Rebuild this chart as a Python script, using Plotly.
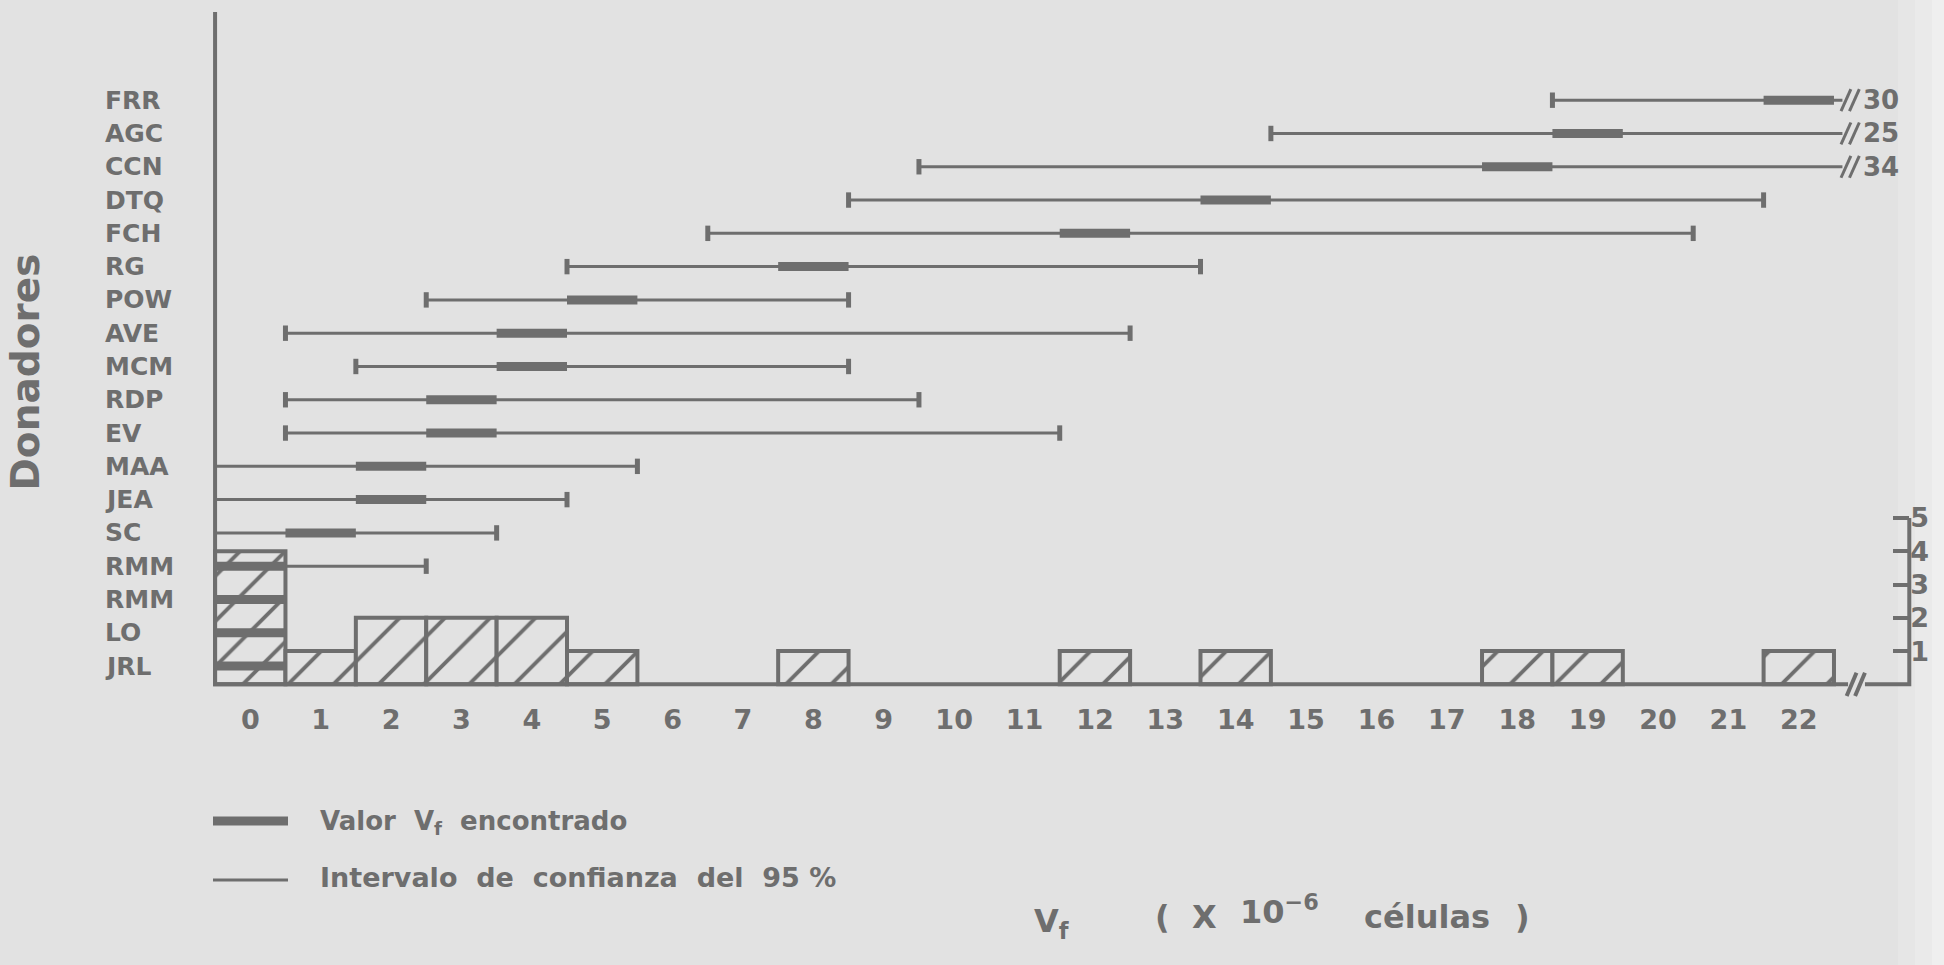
import plotly.graph_objects as go

# ---------------- data ----------------
donors = ["JRL", "LO", "RMM", "RMM", "SC", "JEA", "MAA", "EV", "RDP",
          "MCM", "AVE", "POW", "RG", "FCH", "DTQ", "CCN", "AGC", "FRR"]
vf_found = [0, 0, 0, 0, 1, 2, 2, 3, 3, 4, 4, 5, 8, 12, 14, 18, 19, 22]
ci_low = [-0.5, -0.5, -0.5, -0.5, -0.5, -0.5, -0.5, 0.5, 0.5, 1.5, 0.5,
          2.5, 4.5, 6.5, 8.5, 9.5, 14.5, 18.5]
ci_high = [0.5, 0.5, 0.5, 2.5, 3.5, 4.5, 5.5, 11.5, 9.5, 8.5, 12.5,
           8.5, 13.5, 20.5, 21.5, 34, 25, 30]
hist_bins = [0, 1, 2, 3, 4, 5, 8, 12, 14, 18, 19, 22]
hist_counts = [4, 1, 2, 2, 2, 1, 1, 1, 1, 1, 1, 1]
x_ticks = list(range(0, 23))
count_ticks = [1, 2, 3, 4, 5]

# ---------------- styling / layout constants ----------------
INK = "#6e6e6e"
BG = "#e2e2e2"
FONT = "DejaVu Sans"
W, H = 1944, 965
L, R, T, B = 201, 15, 2, 264
XR = [-0.7, 23.85]          # visible x range
YR = [-0.5, 20.5]           # visible y range
AX_L = -0.5                 # left axis position
AX_R = 23.57                # right (count) axis position
AX_TOP = 20.2
ROW_OFF = 0.55
X_BREAK = 22.62


def px(xp):
    return (xp - L) / (W - L - R)


def py(yp):
    return 1 - (yp - T) / (H - T - B)


rows = [i + ROW_OFF for i in range(len(donors))]

fig = go.Figure()

# histogram
fig.add_trace(go.Bar(
    x=hist_bins, y=hist_counts, width=1,
    marker=dict(color=BG, line=dict(color=INK, width=4),
                pattern=dict(shape="/", fgcolor=INK, bgcolor=BG,
                             fgopacity=1, size=32, solidity=0.12)),
    hoverinfo="skip", showlegend=False))

# thin confidence-interval lines
tx, ty = [], []
for lo, hi, y in zip(ci_low, ci_high, rows):
    tx += [max(lo, AX_L), min(hi, X_BREAK), None]
    ty += [y, y, None]
fig.add_trace(go.Scatter(x=tx, y=ty, mode="lines",
                         line=dict(color=INK, width=3),
                         hoverinfo="skip", showlegend=False))

# end caps
cx, cy = [], []
for lo, hi, y in zip(ci_low, ci_high, rows):
    if lo > AX_L:
        cx.append(lo); cy.append(y)
    if 0.5 < hi <= X_BREAK:
        cx.append(hi); cy.append(y)
fig.add_trace(go.Scatter(x=cx, y=cy, mode="markers",
                         marker=dict(symbol="line-ns", size=11,
                                     line=dict(color=INK, width=5)),
                         hoverinfo="skip", showlegend=False))

# thick found-value segments
vx, vy = [], []
for v, y in zip(vf_found, rows):
    vx += [v - 0.5, v + 0.5, None]
    vy += [y, y, None]
fig.add_trace(go.Scatter(x=vx, y=vy, mode="lines",
                         line=dict(color=INK, width=9),
                         hoverinfo="skip", showlegend=False))

# break marks "//" on truncated intervals + value labels
bx, by = [], []
ann = []
for hi, y in zip(ci_high, rows):
    if hi > X_BREAK:
        for off in (0.05, 0.17):
            xc = X_BREAK + off
            bx += [xc - 0.07, xc + 0.07, None]
            by += [y - 0.33, y + 0.33, None]
        ann.append(dict(x=X_BREAK + 0.27, y=y, xref="x", yref="y",
                        text=str(hi), showarrow=False, xanchor="left",
                        font=dict(family=FONT, size=26, color=INK,
                                  weight="bold")))
fig.add_trace(go.Scatter(x=bx, y=by, mode="lines",
                         line=dict(color=INK, width=3),
                         hoverinfo="skip", showlegend=False))

# left axis + bottom axis up to the break
fig.add_trace(go.Scatter(x=[AX_L, AX_L, X_BREAK + 0.08], y=[AX_TOP, 0, 0],
                         mode="lines", line=dict(color=INK, width=4),
                         hoverinfo="skip", showlegend=False))
# "//" break on the bottom axis
fig.add_trace(go.Scatter(
    x=[X_BREAK + 0.06, X_BREAK + 0.2, None, X_BREAK + 0.18, X_BREAK + 0.32],
    y=[-0.35, 0.35, None, -0.35, 0.35], mode="lines",
    line=dict(color=INK, width=4), hoverinfo="skip", showlegend=False))
# bottom axis after the break + right count axis
fig.add_trace(go.Scatter(x=[X_BREAK + 0.32, AX_R, AX_R],
                         y=[0, 0, count_ticks[-1]], mode="lines",
                         line=dict(color=INK, width=4), yaxis="y2",
                         hoverinfo="skip", showlegend=False))

# donor labels (left aligned)
for name, y in zip(donors, rows):
    ann.append(dict(x=px(103), y=y, xref="paper", yref="y", text=name,
                    showarrow=False, xanchor="left",
                    font=dict(family=FONT, size=25, color=INK,
                              weight="bold")))

# y title
ann.append(dict(x=px(0), y=py(372), xref="paper", yref="paper",
                text="Donadores", textangle=-90, showarrow=False,
                xanchor="left",
                font=dict(family=FONT, size=39, color=INK, weight="bold")))

# x title pieces
title_font = dict(family=FONT, size=32, color=INK, weight="bold")
title_parts = [
    dict(x=px(1032), y=py(946), text="V<sub>f</sub>"),
    dict(x=px(1153), y=py(938), text="("),
    dict(x=px(1190), y=py(938), text="X"),
    dict(x=px(1238), y=py(933), text="10<sup>−6</sup>"),
    dict(x=px(1362), y=py(938), text="células"),
    dict(x=px(1513), y=py(938), text=")"),
]
for a in title_parts:
    a.update(xref="paper", yref="paper", showarrow=False, xanchor="left",
             font=title_font)
ann += title_parts

# legend
legend_font = dict(family=FONT, size=26, color=INK, weight="bold")
ann += [
    dict(x=px(318), y=py(841), xref="paper", yref="paper",
         text="Valor  V<sub>f</sub>  encontrado", showarrow=False,
         xanchor="left", font=legend_font),
    dict(x=px(318), y=py(895), xref="paper", yref="paper",
         text="Intervalo  de  confianza  del  95 %", showarrow=False,
         xanchor="left", font=dict(legend_font, size=27)),
]
shapes = [
    dict(type="line", xref="paper", yref="paper", x0=px(213), x1=px(288),
         y0=py(821), y1=py(821), line=dict(color=INK, width=9)),
    dict(type="line", xref="paper", yref="paper", x0=px(213), x1=px(288),
         y0=py(880), y1=py(880), line=dict(color=INK, width=3)),
]
# lighter scan edge at the right
for x0, col in [(1898, "#e6e6e6"), (1915, "#eaeaea"), (1932, "#efefef")]:
    shapes.append(dict(type="rect", xref="paper", yref="paper",
                       x0=px(x0), x1=px(W + 5), y0=py(H + 5), y1=py(-5),
                       fillcolor=col, line=dict(width=0), layer="below"))

fig.update_layout(
    width=W, height=H,
    margin=dict(l=L, r=R, t=T, b=B, pad=0),
    paper_bgcolor=BG, plot_bgcolor="rgba(0,0,0,0)",
    bargap=0, showlegend=False,
    annotations=ann, shapes=shapes,
    xaxis=dict(range=XR, showgrid=False, zeroline=False,
               showline=False, tickvals=x_ticks,
               ticktext=[str(t) for t in x_ticks],
               ticks="",
               tickfont=dict(family=FONT, size=27, color=INK,
                             weight="bold")),
    yaxis=dict(range=YR, showgrid=False, zeroline=False,
               showline=False, showticklabels=False, ticks=""),
    yaxis2=dict(range=YR, overlaying="y", side="right", anchor="free",
                position=(AX_R - XR[0]) / (XR[1] - XR[0]),
                showgrid=False, zeroline=False, showline=False,
                tickvals=count_ticks, ticks="inside", ticklen=16,
                tickwidth=4, tickcolor=INK,
                tickfont=dict(family=FONT, size=27, color=INK,
                              weight="bold")),
)

fig.write_html("out.html",
               config={"displayModeBar": False, "staticPlot": True},
               post_script="document.body.style.margin='0';"
                           "document.body.style.overflow='hidden';")
